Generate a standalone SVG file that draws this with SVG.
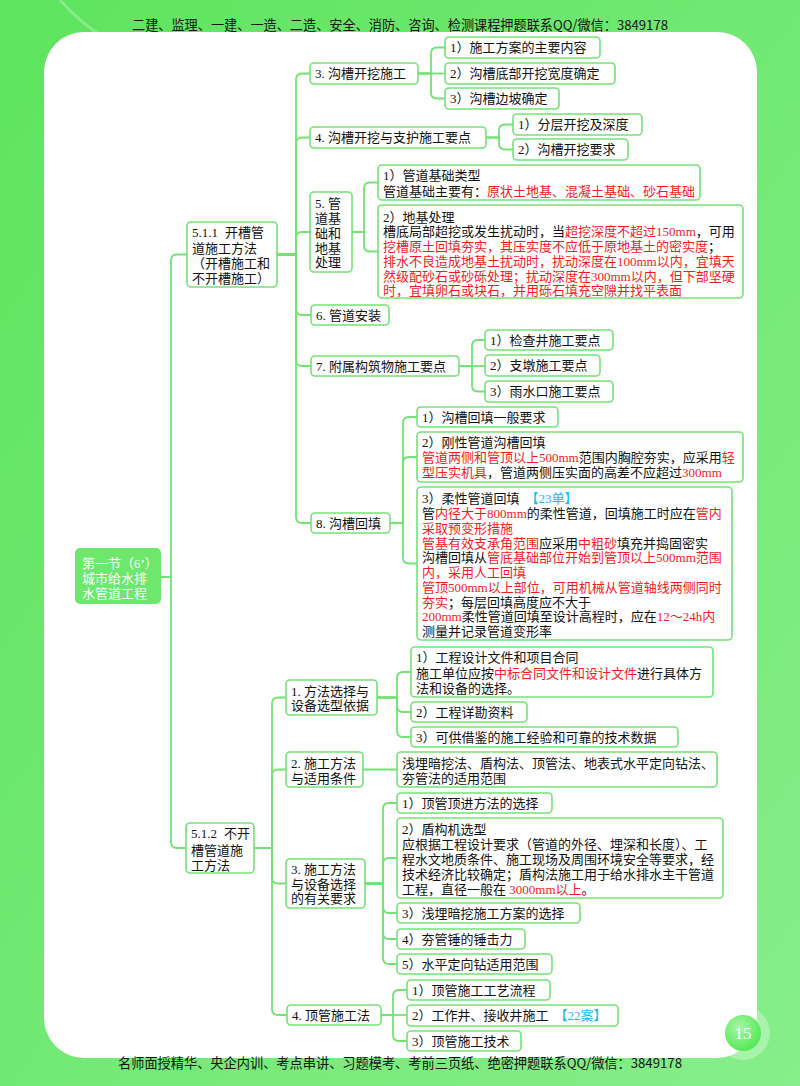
<svg xmlns="http://www.w3.org/2000/svg" width="800" height="1086" viewBox="0 0 800 1086">
<defs>
<linearGradient id="bg" x1="0" y1="0" x2="1" y2="1">
<stop offset="0" stop-color="#5ee45e"/>
<stop offset="1" stop-color="#86ee8a"/>
</linearGradient>
<radialGradient id="pg" cx="0.4" cy="0.35" r="0.7">
<stop offset="0" stop-color="#a8f7a8"/>
<stop offset="1" stop-color="#4fe84f"/>
</radialGradient>
<style>
.box{fill:#fff;stroke:#74e274;stroke-width:1.6}
.t{font-family:"Liberation Serif","Noto Sans CJK SC",sans-serif;font-size:13px;fill:#111}
.r{fill:#f21c1c}
.b{fill:#22b8f0}
.w{fill:#fff}
.hdr{font-family:"Noto Sans CJK SC",sans-serif;font-size:13.5px;fill:#151515}
#connectors path{fill:none;stroke:#74e274;stroke-width:1.8}
</style>
</defs>
<rect x="0" y="0" width="800" height="1086" fill="url(#bg)"/>
<path d="M60 0 Q95 40 150 60" fill="none" stroke="#fff" stroke-opacity="0.25" stroke-width="3"/>
<rect x="44" y="32" width="713" height="1026" rx="40" fill="#fff"/>
<text class="hdr" x="132" y="30" textLength="536" lengthAdjust="spacingAndGlyphs">二建、监理、一建、一造、二造、安全、消防、咨询、检测课程押题联系QQ/微信：3849178</text>
<text class="hdr" x="118" y="1068" textLength="564" lengthAdjust="spacingAndGlyphs">名师面授精华、央企内训、考点串讲、习题模考、考前三页纸、绝密押题联系QQ/微信：3849178</text>
<g id="page">
<circle cx="743" cy="1033" r="27" fill="#fff" fill-opacity="0.3"/>
<circle cx="743" cy="1033" r="18" fill="url(#pg)"/>
<text x="743" y="1039" text-anchor="middle" font-family="Liberation Serif,serif" font-size="17" fill="#fff">15</text>
</g>

<g id="connectors">
<path d="M161 577 H171 V260.5 Q171 254.5 177 254.5 H187"/>
<path d="M161 577 H171 V842 Q171 848 177 848 H186"/>
<path d="M277 254.5 H296 V79.5 Q296 73.5 302 73.5 H310"/>
<path d="M277 254.5 H296 V143.5 Q296 137.5 302 137.5 H310"/>
<path d="M277 254.5 H296 V238 Q296 232 302 232 H310"/>
<path d="M277 254.5 H296 V309 Q296 315 302 315 H311"/>
<path d="M277 254.5 H296 V360 Q296 366 302 366 H311"/>
<path d="M277 254.5 H296 V517 Q296 523 302 523 H311"/>
<path d="M418 73.5 H431 V53.5 Q431 47.5 437 47.5 H445"/>
<path d="M418 73.5 H445"/>
<path d="M418 73.5 H431 V92.5 Q431 98.5 437 98.5 H445"/>
<path d="M486 137.5 H499 V130.5 Q499 124.5 505 124.5 H513"/>
<path d="M486 137.5 H499 V143.5 Q499 149.5 505 149.5 H513"/>
<path d="M352 232 H364 V188.5 Q364 182.5 370 182.5 H378"/>
<path d="M352 232 H364 V245.5 Q364 251.5 370 251.5 H378"/>
<path d="M459 366 H472 V346 Q472 340 478 340 H485"/>
<path d="M459 366 H485"/>
<path d="M459 366 H472 V385.5 Q472 391.5 478 391.5 H485"/>
<path d="M390 523 H403 V423 Q403 417 409 417 H417"/>
<path d="M390 523 H403 V463 Q403 457 409 457 H417"/>
<path d="M390 523 H403 V557.5 Q403 563.5 409 563.5 H417"/>
<path d="M254 848 H272 V703.5 Q272 697.5 278 697.5 H286"/>
<path d="M254 848 H272 V775.5 Q272 769.5 278 769.5 H286"/>
<path d="M254 848 H272 V877.5 Q272 883.5 278 883.5 H286"/>
<path d="M254 848 H272 V1009 Q272 1015 278 1015 H287"/>
<path d="M377 697.5 H397 V678 Q397 672 403 672 H411"/>
<path d="M377 697.5 H397 V706 Q397 712 403 712 H411"/>
<path d="M377 697.5 H397 V731 Q397 737 403 737 H411"/>
<path d="M363 769.5 H397"/>
<path d="M365 883.5 H383 V809 Q383 803 389 803 H397"/>
<path d="M365 883.5 H383 V864 Q383 858 389 858 H397"/>
<path d="M365 883.5 H383 V907 Q383 913 389 913 H397"/>
<path d="M365 883.5 H383 V933 Q383 939 389 939 H397"/>
<path d="M365 883.5 H383 V958 Q383 964 389 964 H397"/>
<path d="M381 1015 H393 V996 Q393 990 399 990 H407"/>
<path d="M381 1015 H407"/>
<path d="M381 1015 H393 V1035 Q393 1041 399 1041 H407"/>
</g>

<g id="root">
<rect x="75" y="548" width="86" height="56" rx="5" fill="#6de86d"/>
<text class="t w" x="82" y="568">第一节（6’）</text>
<text class="t w" x="82" y="583">城市给水排</text>
<text class="t w" x="82" y="598">水管道工程</text>
</g>

<g id="n511">
<rect class="box" x="187" y="222" width="90" height="65" rx="4"/>
<text class="t" x="192" y="237">5.1.1<tspan dx="7">开槽管</tspan></text>
<text class="t" x="192" y="253">道施工方法</text>
<text class="t" x="192" y="268">（开槽施工和</text>
<text class="t" x="192" y="283">不开槽施工）</text>
</g>

<g id="n3">
<rect class="box" x="310" y="63" width="108" height="21" rx="4"/>
<text class="t" x="315" y="78">3. 沟槽开挖施工</text>
</g>
<g id="n3-1">
<rect class="box" x="445" y="37" width="155" height="21" rx="4"/>
<text class="t" x="450" y="52">1）施工方案的主要内容</text>
</g>
<g id="n3-2">
<rect class="box" x="445" y="63" width="170" height="21" rx="4"/>
<text class="t" x="450" y="78">2）沟槽底部开挖宽度确定</text>
</g>
<g id="n3-3">
<rect class="box" x="445" y="88" width="114" height="21" rx="4"/>
<text class="t" x="450" y="103">3）沟槽边坡确定</text>
</g>

<g id="n4">
<rect class="box" x="310" y="127" width="176" height="21" rx="4"/>
<text class="t" x="315" y="142">4. 沟槽开挖与支护施工要点</text>
</g>
<g id="n4-1">
<rect class="box" x="513" y="114" width="129" height="21" rx="4"/>
<text class="t" x="518" y="129">1）分层开挖及深度</text>
</g>
<g id="n4-2">
<rect class="box" x="513" y="139" width="115" height="21" rx="4"/>
<text class="t" x="518" y="154">2）沟槽开挖要求</text>
</g>

<g id="n5">
<rect class="box" x="310" y="192" width="42" height="80" rx="4"/>
<text class="t" x="315" y="208">5. 管</text>
<text class="t" x="315" y="223">道基</text>
<text class="t" x="315" y="238">础和</text>
<text class="t" x="315" y="253">地基</text>
<text class="t" x="315" y="267">处理</text>
</g>
<g id="n5-1">
<rect class="box" x="378" y="165" width="322" height="35" rx="4"/>
<text class="t" x="383" y="180">1）管道基础类型</text>
<text class="t" x="383" y="196">管道基础主要有：<tspan class="r">原状土地基、混凝土基础、砂石基础</tspan></text>
</g>
<g id="n5-2">
<rect class="box" x="378" y="205" width="365" height="93" rx="4"/>
<text class="t" x="383" y="222">2）地基处理</text>
<text class="t" x="383" y="236">槽底局部超挖或发生扰动时，当<tspan class="r">超挖深度不超过150mm</tspan>，可用</text>
<text class="t" x="383" y="251"><tspan class="r">挖槽原土回填夯实，其压实度不应低于原地基土的密实度</tspan>；</text>
<text class="t r" x="383" y="266">排水不良造成地基土扰动时，扰动深度在100mm以内，宜填天</text>
<text class="t r" x="383" y="281">然级配砂石或砂砾处理；扰动深度在300mm以内，但下部坚硬</text>
<text class="t r" x="383" y="295">时，宜填卵石或块石，并用砾石填充空隙并找平表面</text>
</g>

<g id="n6">
<rect class="box" x="311" y="305" width="78" height="20" rx="4"/>
<text class="t" x="316" y="320">6. 管道安装</text>
</g>

<g id="n7">
<rect class="box" x="311" y="356" width="148" height="20" rx="4"/>
<text class="t" x="316" y="371">7. 附属构筑物施工要点</text>
</g>
<g id="n7-1">
<rect class="box" x="485" y="330" width="128" height="20" rx="4"/>
<text class="t" x="490" y="345">1）检查井施工要点</text>
</g>
<g id="n7-2">
<rect class="box" x="485" y="355" width="115" height="21" rx="4"/>
<text class="t" x="490" y="370">2）支墩施工要点</text>
</g>
<g id="n7-3">
<rect class="box" x="485" y="381" width="128" height="21" rx="4"/>
<text class="t" x="490" y="396">3）雨水口施工要点</text>
</g>

<g id="n8">
<rect class="box" x="311" y="513" width="79" height="20" rx="4"/>
<text class="t" x="316" y="528">8. 沟槽回填</text>
</g>
<g id="n8-1">
<rect class="box" x="417" y="407" width="141" height="20" rx="4"/>
<text class="t" x="422" y="422">1）沟槽回填一般要求</text>
</g>
<g id="n8-2">
<rect class="box" x="417" y="432" width="326" height="50" rx="4"/>
<text class="t" x="422" y="447">2）刚性管道沟槽回填</text>
<text class="t" x="422" y="462"><tspan class="r">管道两侧和管顶以上500mm</tspan>范围内胸腔夯实，应采用<tspan class="r">轻</tspan></text>
<text class="t" x="422" y="477"><tspan class="r">型压实机具</tspan>，管道两侧压实面的高差不应超过<tspan class="r">300mm</tspan></text>
</g>
<g id="n8-3">
<rect class="box" x="417" y="487" width="315" height="153" rx="4"/>
<text class="t" x="422" y="503">3）柔性管道回填<tspan class="b" dx="6">【23单】</tspan></text>
<text class="t" x="422" y="518">管<tspan class="r">内径大于800mm</tspan>的柔性管道，回填施工时应在<tspan class="r">管内</tspan></text>
<text class="t r" x="422" y="533">采取预变形措施</text>
<text class="t" x="422" y="548"><tspan class="r">管基有效支承角范围</tspan>应采用<tspan class="r">中粗砂</tspan>填充并捣固密实</text>
<text class="t" x="422" y="562">沟槽回填从<tspan class="r">管底基础部位开始到管顶以上500mm范围</tspan></text>
<text class="t r" x="422" y="577">内，采用人工回填</text>
<text class="t r" x="422" y="592">管顶500mm以上部位，可用机械从管道轴线两侧同时</text>
<text class="t" x="422" y="607"><tspan class="r">夯实</tspan>；每层回填高度应不大于</text>
<text class="t" x="422" y="621"><tspan class="r">200mm</tspan>柔性管道回填至设计高程时，应在<tspan class="r">12～24h内</tspan></text>
<text class="t" x="422" y="636">测量并记录管道变形率</text>
</g>

<g id="n512">
<rect class="box" x="186" y="823" width="68" height="50" rx="4"/>
<text class="t" x="191" y="838">5.1.2<tspan dx="7">不开</tspan></text>
<text class="t" x="191" y="855">槽管道施</text>
<text class="t" x="191" y="870">工方法</text>
</g>

<g id="m1">
<rect class="box" x="286" y="680" width="91" height="35" rx="4"/>
<text class="t" x="291" y="696">1. 方法选择与</text>
<text class="t" x="291" y="710">设备选型依据</text>
</g>
<g id="m1-1">
<rect class="box" x="411" y="647" width="302" height="50" rx="4"/>
<text class="t" x="416" y="662">1）工程设计文件和项目合同</text>
<text class="t" x="416" y="678">施工单位应按<tspan class="r">中标合同文件和设计文件</tspan>进行具体方</text>
<text class="t" x="416" y="693">法和设备的选择。</text>
</g>
<g id="m1-2">
<rect class="box" x="411" y="702" width="116" height="20" rx="4"/>
<text class="t" x="416" y="717">2）工程详勘资料</text>
</g>
<g id="m1-3">
<rect class="box" x="411" y="727" width="267" height="20" rx="4"/>
<text class="t" x="416" y="742">3）可供借鉴的施工经验和可靠的技术数据</text>
</g>

<g id="m2">
<rect class="box" x="286" y="752" width="77" height="35" rx="4"/>
<text class="t" x="291" y="768">2. 施工方法</text>
<text class="t" x="291" y="783">与适用条件</text>
</g>
<g id="m2-1">
<rect class="box" x="397" y="752" width="320" height="35" rx="4"/>
<text class="t" x="402" y="768">浅埋暗挖法、盾构法、顶管法、地表式水平定向钻法、</text>
<text class="t" x="402" y="783">夯管法的适用范围</text>
</g>

<g id="m3">
<rect class="box" x="286" y="859" width="79" height="49" rx="4"/>
<text class="t" x="291" y="874">3. 施工方法</text>
<text class="t" x="291" y="889">与设备选择</text>
<text class="t" x="291" y="903">的有关要求</text>
</g>
<g id="m3-1">
<rect class="box" x="397" y="793" width="155" height="20" rx="4"/>
<text class="t" x="402" y="808">1）顶管顶进方法的选择</text>
</g>
<g id="m3-2">
<rect class="box" x="397" y="818" width="326" height="80" rx="4"/>
<text class="t" x="402" y="834">2）盾构机选型</text>
<text class="t" x="402" y="849">应根据工程设计要求（管道的外径、埋深和长度）、工</text>
<text class="t" x="402" y="864">程水文地质条件、施工现场及周围环境安全等要求，经</text>
<text class="t" x="402" y="879">技术经济比较确定；盾构法施工用于给水排水主干管道</text>
<text class="t" x="402" y="894">工程，直径一般在 <tspan class="r">3000mm以上</tspan>。</text>
</g>
<g id="m3-3">
<rect class="box" x="397" y="903" width="183" height="20" rx="4"/>
<text class="t" x="402" y="918">3）浅埋暗挖施工方案的选择</text>
</g>
<g id="m3-4">
<rect class="box" x="397" y="929" width="128" height="20" rx="4"/>
<text class="t" x="402" y="944">4）夯管锤的锤击力</text>
</g>
<g id="m3-5">
<rect class="box" x="397" y="954" width="155" height="20" rx="4"/>
<text class="t" x="402" y="969">5）水平定向钻适用范围</text>
</g>

<g id="m4">
<rect class="box" x="287" y="1005" width="94" height="20" rx="4"/>
<text class="t" x="292" y="1020">4. 顶管施工法</text>
</g>
<g id="m4-1">
<rect class="box" x="407" y="980" width="143" height="20" rx="4"/>
<text class="t" x="412" y="995">1）顶管施工工艺流程</text>
</g>
<g id="m4-2">
<rect class="box" x="407" y="1005" width="211" height="21" rx="4"/>
<text class="t" x="412" y="1020">2）工作井、接收井施工<tspan class="b" dx="6">【22案】</tspan></text>
</g>
<g id="m4-3">
<rect class="box" x="407" y="1031" width="114" height="20" rx="4"/>
<text class="t" x="412" y="1046">3）顶管施工技术</text>
</g>
</svg>
